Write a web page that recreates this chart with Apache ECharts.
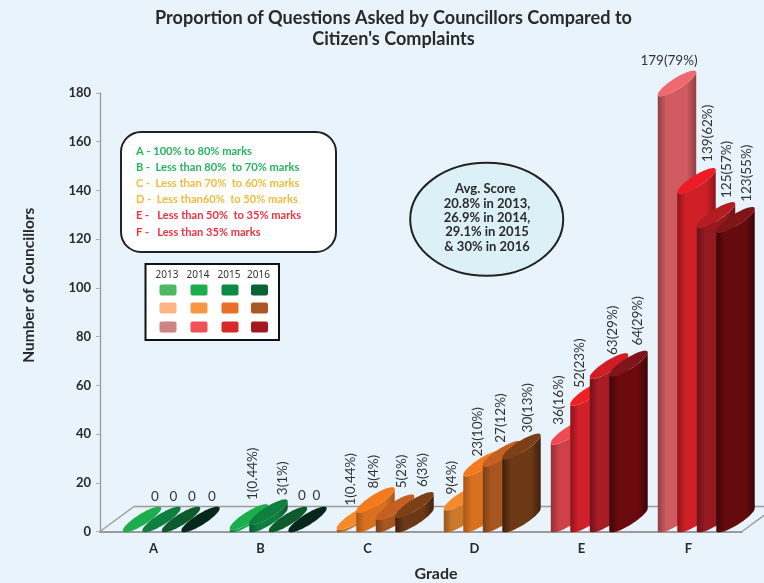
<!DOCTYPE html>
<html><head><meta charset="utf-8">
<style>html,body{margin:0;padding:0;background:#e8f3fb}#c{width:764px;height:583px}</style>
<script src="https://cdn.jsdelivr.net/npm/echarts@6/dist/echarts.min.js"></script>
</head><body><div id="c"></div>
<script>
const categories = ['A','B','C','D','E','F'];
const years = ['2013','2014','2015','2016'];
const values2013 = [0,1,1,9,36,179];
const values2014 = [0,3,8,23,52,139];
const values2015 = [0,0,5,27,63,125];
const values2016 = [0,0,6,30,64,123];
const labels2013 = ['0','1(0.44%)','1(0.44%)','9(4%)','36(16%)','179(79%)'];
const labels2014 = ['0','3(1%)','8(4%)','23(10%)','52(23%)','139(62%)'];
const labels2015 = ['0','0','5(2%)','27(12%)','63(29%)','125(57%)'];
const labels2016 = ['0','0','6(3%)','30(13%)','64(29%)','123(55%)'];
const yTicks = {min:0,max:180,interval:20};
const titleText = 'Proportion of Questions Asked by Councillors Compared to\nCitizen\'s Complaints';
const legendLines = ['A - 100% to 80% marks','B -  Less than 80%  to 70% marks','C -  Less than 70%  to 60% marks','D -  Less than60%  to 50% marks','E -   Less than 50%  to 35% marks','F -   Less than 35% marks'];
const scoreLines = ['Avg. Score ','20.8% in 2013,','26.9% in 2014,','29.1% in 2015','& 30% in 2016'];

/* styling, separate from the data */
const legendInk = ['#27b45e','#27b45e','#f0bb3e','#f0bb3e','#ef3340','#ef3340'];
const swatchColors = [['#4fb960','#1cad4c','#0b8a45','#0a6334'],['#fdb682','#f69746','#e66f27','#ac5727'],['#cf8484','#ef5155','#d62a28','#a21a20']];
const tops = [
 ['#1cad4c','#1cad4c','#f58a2a','#f58a2a','#ee4c50','#ee6a70'],
 ['#0f7f3f','#0f7f3f','#f47a1e','#f47a1e','#ee2024','#ed1c24'],
 ['#0d5a2c','#0d5a2c','#c75f22','#c75f22','#d01c24','#b51c22'],
 ['#05281a','#05281a','#7c4019','#7c4019','#7f151b','#7f1419']];
const bodies = [
 ['#1cad4c','#1cad4c','#cc7a2a','#cc7a2a','#cf4148','#cf5a60'],
 ['#0f7f3f','#0f7f3f','#d9701f','#d9701f','#d2202a','#d02027'],
 ['#0d5a2c','#0d5a2c','#a8561f','#a8561f','#a81c24','#951a20'],
 ['#05281a','#05281a','#6c3815','#6c3815','#6b0a0e','#650a0d']];
const edges = [
 ['#0f7f3f','#0f7f3f','#94581e','#94581e','#8f3036','#8f4040'],
 ['#0a5a2c','#0a5a2c','#a5561a','#a5561a','#8c141a','#8c141a'],
 ['#073d1e','#073d1e','#7a4016','#7a4016','#70121a','#6a1218'],
 ['#021a10','#021a10','#40200c','#40200c','#3c0608','#3c0608']];
const nudgeDx = [[32,23,14,8,8,11],[31,33,17.5,14,9,30],[30,33,26,18,23,30],[30.5,28,27.5,25.5,28,30]];
const nudgeLift = [[35,29,23.5,15,19,35],[35,29,23.5,19,17,31],[35,36,31,23,23,29],[35,36,30,26,30,30]];
const isFlat = t => t === '0' || t === '179(79%)';

const BAND = 107, FIRST = 23, STEP = 19.5, RX = 19, RY = 12, MINOR = 5.5;
function arc(cx, cy, a, b, c, d, from, to, n) {
  const pts = [];
  for (let i = 0; i <= n; i++) {
    const t = from + (to - from) * i / n;
    pts.push([cx + a*Math.cos(t) + c*Math.sin(t), cy + b*Math.cos(t) + d*Math.sin(t)]);
  }
  return pts;
}
function barSeries(name, si, vals, labels) {
  return {
    type:'custom', name, data: vals.map((v,i)=>[i,v]), encode:{x:0,y:1}, animation:false, silent:true,
    renderItem(params, api) {
      const cat = api.value(0), v = api.value(1);
      const top = api.coord([cat, v]), base = api.coord([cat, 0]);
      const band = api.size([1,0])[0], k = band / BAND;
      const left = top[0] - band/2 + (FIRST + si*STEP)*k;
      const a = RX*k, b = -RY, len = Math.hypot(a,b), c = -b/len*MINOR, d = a/len*MINOR;
      const t0 = Math.atan2(c, a);
      const cx = left + a;
      const children = [];
      if (v > 0) {
        const lower = arc(cx, base[1]-RY, a, b, c, d, t0, t0+Math.PI, 24);
        const upper = arc(cx, top[1]-RY, a, b, c, d, t0+Math.PI, t0, 24);
        children.push({type:'polygon', shape:{points:lower.concat(upper)}, style:{
          fill:new echarts.graphic.LinearGradient(0,0,1,0,[
            {offset:0,color:edges[si][cat]},{offset:0.22,color:bodies[si][cat]},{offset:0.75,color:bodies[si][cat]},{offset:1,color:edges[si][cat]}])}});
      }
      children.push({type:'polygon', shape:{points:arc(cx, top[1]-RY, a, b, c, d, 0, Math.PI*2, 48)}, style:{fill:tops[si][cat]}});
      const txt = labels[cat], lx = left + nudgeDx[si][cat]*k, ly = top[1] - nudgeLift[si][cat];
      children.push(isFlat(txt)
        ? {type:'text', x:lx, y:ly, z2:50, style:{text:txt, fill:'#333', font:'13.5px Lato', align:'center', verticalAlign:'middle'}}
        : {type:'text', x:lx, y:ly, rotation:Math.PI/2, z2:50, style:{text:txt, fill:'#333', font:'13.5px Lato', align:'left', verticalAlign:'middle'}});
      return {type:'group', children};
    }
  };
}
const floorSeries = {
  type:'custom', data:[[0,0]], encode:{x:0,y:1}, animation:false, silent:true, z:1,
  renderItem(params, api) {
    const cs = params.coordSys, y = cs.y + cs.height, dx = 34, dy = 25;
    const line = (x1,y1,x2,y2)=>({type:'line', shape:{x1,y1,x2,y2}, style:{stroke:'#9a9a9a', lineWidth:1.3}});
    return {type:'group', children:[
      line(cs.x,y,cs.x+dx,y-dy),
      line(cs.x+dx,y-dy,cs.x+cs.width+dx,y-dy),
      line(cs.x+cs.width,y,cs.x+cs.width+dx,y-dy)]};
  }
};
const graphics = [];
graphics.push({type:'rect', z:100, shape:{x:121,y:132,width:215,height:120,r:20}, style:{fill:'#fff',stroke:'#222',lineWidth:2}});
legendLines.forEach((t,i)=>graphics.push({type:'text', z:101, x:136, y:151+i*16.2, style:{text:t, fill:legendInk[i], font:'bold 11.1px Lato', verticalAlign:'middle'}}));
graphics.push({type:'rect', z:100, shape:{x:145.5,y:264,width:133.5,height:76}, style:{fill:'#fff',stroke:'#111',lineWidth:2}});
const swX=[168,199,230,259.5], swY=[290,308,327];
years.forEach((t,i)=>graphics.push({type:'text', z:101, x:swX[i]-1, y:275, style:{text:t, fill:'#333', font:'10px "Noto Sans"', align:'center', verticalAlign:'middle'}}));
swatchColors.forEach((row,r)=>row.forEach((col,i)=>graphics.push({type:'rect', z:101, shape:{x:swX[i]-8.5,y:swY[r]-5.5,width:17,height:11,r:2}, style:{fill:col}})));
graphics.push({type:'ellipse', z:100, shape:{cx:486.7,cy:219.3,rx:76.5,ry:56.5}, style:{fill:'#dcf0f7',stroke:'#222',lineWidth:2}});
scoreLines.forEach((t,i)=>graphics.push({type:'text', z:101, x:487, y:189+i*14.4, style:{text:t, fill:'#2a2a2a', font:'bold 13px Lato', align:'center', verticalAlign:'middle'}}));

const chart = echarts.init(document.getElementById('c'), null, {renderer:'canvas'});
chart.setOption({
  backgroundColor:'#e8f3fb', animation:false,
  title:{text:titleText, left:388.5, top:3, textAlign:'center', textStyle:{fontFamily:'Lato',fontWeight:'bold',fontSize:18.1,color:'#2a2a2a',lineHeight:21}},
  grid:{left:100,right:22,top:93,bottom:51.5,outerBoundsMode:'none'},
  xAxis:{type:'category', data:categories, name:'Grade', nameLocation:'middle', nameGap:34,
    nameTextStyle:{fontFamily:'Lato',fontWeight:'bold',fontSize:16,color:'#2a2a2a',padding:[0,0,0,30]},
    axisLine:{lineStyle:{color:'#9a9a9a',width:2}}, axisTick:{length:4,lineStyle:{color:'#9a9a9a'}},
    axisLabel:{margin:11,fontFamily:'Lato',fontWeight:'bold',fontSize:13,color:'#2a2a2a'}, splitLine:{show:false}},
  yAxis:{type:'value', min:yTicks.min, max:yTicks.max, interval:yTicks.interval, name:'Number of Councillors', nameLocation:'middle', nameGap:63, nameRotate:90,
    nameTextStyle:{fontFamily:'Lato',fontWeight:'bold',fontSize:15.5,color:'#2a2a2a',padding:[0,0,0,54]},
    axisLine:{show:true,lineStyle:{color:'#9a9a9a',width:1.3}}, axisTick:{show:true,length:4,lineStyle:{color:'#b0b0b0'}},
    axisLabel:{margin:9,fontFamily:'Lato',fontWeight:'bold',fontSize:13,color:'#2a2a2a'}, splitLine:{show:false}},
  series:[floorSeries,
    barSeries('2013',0,values2013,labels2013),
    barSeries('2014',1,values2014,labels2014),
    barSeries('2015',2,values2015,labels2015),
    barSeries('2016',3,values2016,labels2016)],
  graphic:{elements:graphics}
});
</script></body></html>
